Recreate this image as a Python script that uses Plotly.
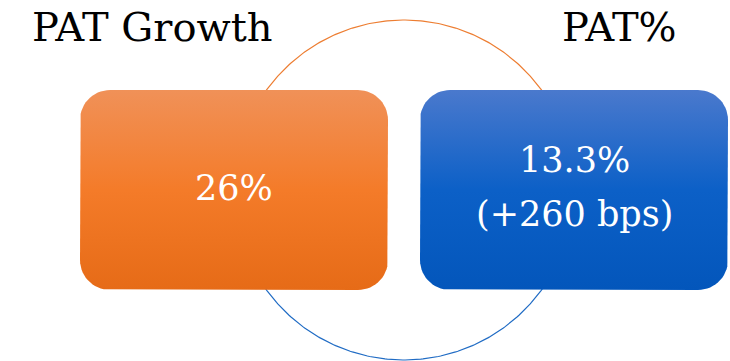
import numpy as np
import plotly.graph_objects as go

# ---- content ----
titles = ["PAT Growth", "PAT%"]
values = ["26%", "13.3%<br>(+260 bps)"]

# ---- styles / layout constants ----
W, H = 730, 361
box_x0 = [80, 420]
box_w, box_h = 308, 200
box_y0 = 90
radius = 30
grads = [
    [[0, "#E66B17"], [0.5, "#F47B29"], [1, "#F09158"]],
    [[0, "#0356BB"], [0.5, "#0C60C7"], [1, "#4A79CD"]],
]
title_cx = [152, 619]
title_cy = 27
line_gap = 54
ring_c = (404, 190)
ring_r = 170
ring_cols = ["#ED7D31", "#1F6BC4"]
FONT = "DejaVu Serif"


def rounded_rect(x0, y0, w, h, r, n=16):
    xs, ys = [], []
    corners = [
        (x0 + w - r, y0 + r, -np.pi / 2, 0),
        (x0 + w - r, y0 + h - r, 0, np.pi / 2),
        (x0 + r, y0 + h - r, np.pi / 2, np.pi),
        (x0 + r, y0 + r, np.pi, 1.5 * np.pi),
    ]
    for cx, cy, a0, a1 in corners:
        t = np.linspace(a0, a1, n)
        xs.extend(cx + r * np.cos(t))
        ys.extend(cy + r * np.sin(t))
    xs.append(xs[0])
    ys.append(ys[0])
    return xs, ys


fig = go.Figure()

# ring: top half orange, bottom half blue
for i, (a0, a1) in enumerate([(np.pi, 2 * np.pi), (0, np.pi)]):
    t = np.linspace(a0, a1, 240)
    fig.add_trace(go.Scatter(
        x=ring_c[0] + ring_r * np.cos(t),
        y=ring_c[1] + ring_r * np.sin(t),
        mode="lines", line=dict(color=ring_cols[i], width=1.2),
        hoverinfo="skip", showlegend=False))

# boxes
for i in range(2):
    xs, ys = rounded_rect(box_x0[i], box_y0, box_w, box_h, radius)
    fig.add_trace(go.Scatter(
        x=xs, y=ys, mode="lines", line=dict(width=0),
        fill="toself",
        fillgradient=dict(type="vertical", colorscale=grads[i]),
        hoverinfo="skip", showlegend=False))
    lines = values[i].split("<br>")
    cy = box_y0 + box_h / 2 - 2
    n = len(lines)
    for k, ln in enumerate(lines):
        yk = cy + (k - (n - 1) / 2) * line_gap - (1 if n > 1 else 0)
        fig.add_annotation(
            x=box_x0[i] + box_w / 2, y=yk,
            text=ln, showarrow=False,
            font=dict(family=FONT, size=35, color="white"),
            xanchor="center", yanchor="middle", align="center")
    fig.add_annotation(
        x=title_cx[i], y=title_cy, text=titles[i], showarrow=False,
        font=dict(family=FONT, size=40, color="black"),
        xanchor="center", yanchor="middle")

fig.update_layout(
    width=W, height=H,
    margin=dict(l=0, r=0, t=0, b=0),
    paper_bgcolor="white", plot_bgcolor="white",
    xaxis=dict(range=[0, W], visible=False, fixedrange=True),
    yaxis=dict(range=[H, 0], visible=False, fixedrange=True),
)

fig.write_html(
    "out.html",
    config={"displayModeBar": False, "staticPlot": True},
    post_script="document.body.style.margin='0';document.body.style.overflow='hidden';",
)
